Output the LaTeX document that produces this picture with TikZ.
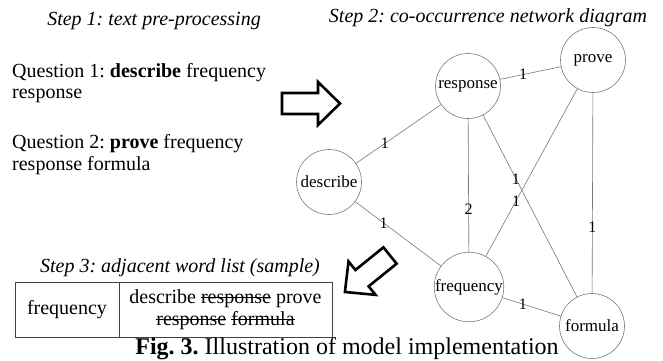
\documentclass[tikz,border=0pt]{standalone}
\usepackage{fontspec}
\setmainfont{Liberation Serif}
\usepackage{xcolor}
\usepackage{tikz}
\frenchspacing

% struck-out word
\newsavebox\strikebox
\newcommand{\strikeword}[1]{\sbox\strikebox{#1}\rlap{\rule[0.27em]{\wd\strikebox}{0.06em}}\usebox\strikebox}

\begin{document}
\begin{tikzpicture}[x=1pt,y=-1pt,
  word/.style={circle,draw=linegray,line width=0.6pt,minimum size=65pt,inner sep=0pt,font=\fontsize{17}{20}\selectfont},
  edge/.style={draw=linegray,line width=0.6pt},
  weight/.style={font=\fontsize{16}{16}\selectfont,inner sep=0pt},
  steptitle/.style={anchor=base,font=\fontsize{20}{24}\selectfont\itshape},
  bodytext/.style={anchor=base west,font=\fontsize{20}{24}\selectfont,inner sep=0pt},
  cell/.style={draw=black!75,line width=0.7pt,minimum height=55pt,inner sep=0pt,align=center,font=\fontsize{20}{22}\selectfont},
  blockarrow/.style={draw=black,line width=2.6pt,line join=miter}]
% Define colors
\definecolor{linegray}{RGB}{120,120,120}

\useasboundingbox (0,0) rectangle (663,360);

% Step 1: text pre-processing
\node[steptitle] (t1) at (154,25) {Step 1: text pre-processing};
\node[bodytext] (q1a) at (12,77) {Question 1: \textbf{describe} frequency};
\node[bodytext] (q1b) at (12,98) {response};
\node[bodytext] (q2a) at (12,148) {Question 2: \textbf{prove} frequency};
\node[bodytext] (q2b) at (12,170) {response formula};

% Arrow to network
\begin{scope}[shift={(282,103.5)}]
\draw[blockarrow] (0,-10.5) -- (36,-10.5) -- (36,-21.5) -- (58,0) -- (36,21.5) -- (36,10.5) -- (0,10.5) -- cycle;
\end{scope}

% Step 2: co-occurrence network diagram
\node[steptitle] (t2) at (488,22) {Step 2: co-occurrence network diagram};
\node[word] (resp) at (468,86) {response};
\node[word] (prove) at (593,60) {prove};
\node[word] (desc) at (329,182) {describe};
\node[word] (freq) at (469,287) {frequency};
\node[word] (form) at (592,326) {formula};

\draw[edge] (resp) -- node[weight,pos=0.38] {1} (prove);
\draw[edge] (resp) -- node[weight,pos=0.66] {1} (desc);
\draw[edge] (desc) -- node[weight,pos=0.33] {1} (freq);
\draw[edge] (resp) -- node[weight,pos=0.68] {2} (freq);
\draw[edge] (resp) -- node[weight,pos=0.35] {1} (form);
\draw[edge] (prove) -- node[weight,pos=0.67] {1} (freq);
\draw[edge] (prove) -- node[weight,pos=0.67] {1} (form);
\draw[edge] (freq) -- node[weight,pos=0.35] {1} (form);

% Arrow to word list
\begin{scope}[shift={(390,255.5)},rotate=219]
\draw[blockarrow] (0,-10.5) -- (36,-10.5) -- (36,-21.5) -- (58,0) -- (36,21.5) -- (36,10.5) -- (0,10.5) -- cycle;
\end{scope}

% Step 3: adjacent word list
\node[steptitle] (t3) at (180,272) {Step 3: adjacent word list (sample)};
\node[cell,minimum width=104pt] (key) at (67,309.5) {frequency};
\node[cell,minimum width=213pt] (adj) at (225.5,309.5) {describe \strikeword{response} prove\\\strikeword{response} \strikeword{formula}};

% Caption
\node[anchor=base,font=\fontsize{24}{28}\selectfont] (cap) at (347,354) {\textbf{Fig. 3.} Illustration of model implementation};

\end{tikzpicture}
\end{document}
